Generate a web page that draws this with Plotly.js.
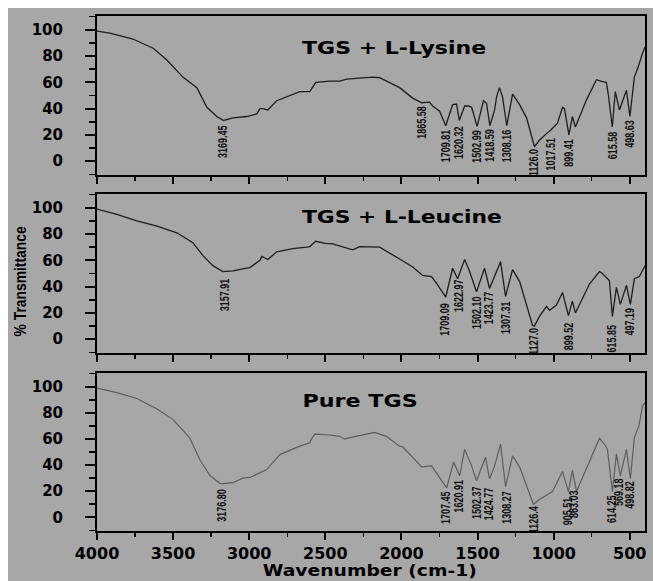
<!DOCTYPE html>
<html>
<head>
<meta charset="utf-8">
<script src="https://cdn.plot.ly/plotly-3.0.1.min.js"></script>
<style>html,body{margin:0;padding:0;background:#fff;}#chart{width:653px;height:581px;}</style>
</head>
<body>
<div id="chart"></div>
<script>
// ---- Data ----
const lysineWn = [4000,3915,3764,3631,3541,3436,3344,3278,3213,3169,3107,3042,3016,2950,2930,2910,2878,2819,2734,2668,2602,2563,2471,2406,2360,2189,2143,2031,2012,1926,1900,1867,1815,1795,1749,1709,1664,1638,1620,1585,1559,1539,1503,1461,1441,1419,1388,1375,1356,1336,1308,1270,1224,1178,1126,1093,1047,1017,975,942,929,900,877,857,785,719,680,654,640,615,595,568,522,499,470,444,417,400];
const lysineT  = [99,97.5,93,86,77,64,56,41,34,31,33,34,34,36,40,40,39,46,50,53,53,60,61,61,62.5,64,63.5,57,56,48,46.5,44.5,45,42,38,27,43,43.5,31,42,42,41,26.5,46,44,27,39,49,56,49,27,51,43,33,11,16,21,24,29,41,40,20,34,26,46.5,62,60.5,60,50,26,53,39,54,34,64,72,82,87];

const leucineWn = [4000,3869,3738,3606,3475,3370,3304,3239,3173,3107,3042,2996,2930,2917,2900,2878,2819,2714,2622,2602,2563,2500,2451,2320,2274,2143,2012,1926,1861,1802,1769,1709,1664,1631,1585,1552,1507,1454,1421,1388,1349,1316,1270,1224,1139,1127,1093,1047,1027,982,942,903,877,857,765,699,680,634,614,588,562,522,496,470,437,404,400];
const leucineT  = [99,95,90,86,81,73.5,63.6,56,51.5,52,53.5,54.5,60,63,62,60.6,66.5,69,70,70.5,74.5,73,72.5,68,70.5,70,61,55,48.5,47.7,42.4,32,54,46,60.6,51.5,36,54,38.6,48.5,59,32.6,53,44,10.6,10,17.4,25,22,26,35.6,18,29,20,42,51.5,50,44.7,17.4,39.4,26.5,41,26.5,46,47.7,55,56];

const pureWn = [4000,3869,3738,3606,3501,3390,3324,3258,3193,3173,3107,3042,2996,2885,2799,2668,2602,2592,2569,2471,2406,2373,2300,2176,2100,2012,1992,1867,1802,1703,1657,1618,1585,1539,1507,1448,1421,1388,1349,1316,1270,1224,1133,1093,1008,942,903,877,850,699,660,647,614,588,562,522,496,470,440,417,400];
const pureT  = [99,95.5,91,83,75,60.6,44,32,26,25.8,26.5,30,30.5,36.5,48,54.5,57,60,63.6,63,62,60,62,65,62,54.5,54,38.6,39.4,22.5,42.4,31.8,52,39.4,28,46,29.5,39.4,56,23.5,47,38.6,10,13.6,19.7,35,19.7,36,19.7,60.6,55,52,19.7,48.5,31.8,52,29.5,61,70,85,88];

// Peak labels: wavenumber text and the level where the label starts
const lysinePeaks  = ["3169.45","1865.58","1709.81","1620.32","1502.99","1418.59","1308.16","1126.0","1017.51","899.41","615.58","498.63"];
const lysineLblY   = [29.8,44,26,29,26,26.7,26,10.7,20,18.5,23.7,33];
const leucinePeaks = ["3157.91","1709.09","1622.97","1502.10","1423.77","1307.31","1127.0","899.52","615.85","497.19"];
const leucineLblY  = [48.5,29.5,47.7,35,38.6,31,10,14.4,12,25];
const purePeaks    = ["3176.80","1707.45","1620.91","1502.37","1424.77","1308.27","1126.4","905.51","863.03","614.25","569.18","498.82"];
const pureLblY     = [24,22,31,26,25,22,10,16,22,18,31,29.5];

const panelTitles = ["TGS + L-Lysine","TGS + L-Leucine","Pure TGS"];
const xTitle = "Wavenumber (cm-1)";
const yTitle = "% Transmittance";

// ---- Figure ----
const W = 653, H = 581, mL = 97, mR = 8, mT = 16, mB = 50;
const pw = W - mL - mR, ph = H - mT - mB;
const py = v => (H - mB - v) / ph;   // pixel row -> paper y
const px = v => (v - mL) / pw;       // pixel col -> paper x

const traces = [
  {x: lysineWn, y: lysineT, xaxis:'x', yaxis:'y', mode:'lines', line:{color:'#1e1e1e', width:1.3}},
  {x: leucineWn, y: leucineT, xaxis:'x2', yaxis:'y2', mode:'lines', line:{color:'#1e1e1e', width:1.3}},
  {x: pureWn, y: pureT, xaxis:'x3', yaxis:'y3', mode:'lines', line:{color:'#5e5e5e', width:1.2}}
];

const bold = {family:'DejaVu Sans', size:15, color:'#000', weight:'bold'};
function xax(anchor, labels){
  return {anchor:anchor, domain:[0,1], range:[4000,400], tickmode:'linear', tick0:0, dtick:500,
    ticks:'outside', ticklen:7, tickwidth:2, tickcolor:'#000', showticklabels:labels,
    tickfont:{family:'DejaVu Sans', size:16, color:'#000', weight:'bold'},
    minor:{tickmode:'linear', tick0:0, dtick:250, ticks:'outside', ticklen:4, tickwidth:1.5, tickcolor:'#000'},
    showline:true, linecolor:'#000', linewidth:2, mirror:true, showgrid:false, zeroline:false};
}
function yax(anchor, dom){
  return {anchor:anchor, domain:dom, range:[-10.5,110.5], tickmode:'linear', tick0:0, dtick:20,
    ticks:'outside', ticklen:10, tickwidth:2, tickcolor:'#000', tickfont:bold, ticklabelstandoff:19,
    minor:{tickmode:'linear', tick0:0, dtick:10, ticks:'outside', ticklen:6, tickwidth:1.5, tickcolor:'#000'},
    showline:true, linecolor:'#000', linewidth:2, mirror:true, showgrid:false, zeroline:false};
}

const annotations = [];
const stretch = {};  // text -> target length in px (narrow/wide lettering of the reference)
function peaks(names, ys, xr, yr){
  names.forEach((n,i)=>{
    annotations.push({x: parseFloat(n), y: ys[i], xref:xr, yref:yr, text:n, showarrow:false,
      textangle:-90, xanchor:'center', yanchor:'top', yshift:5,
      font:{family:'Liberation Sans', size:12, color:'#111', weight:'bold'}});
    stretch[n] = 'narrow';
  });
}
peaks(lysinePeaks, lysineLblY, 'x', 'y');
peaks(leucinePeaks, leucineLblY, 'x2', 'y2');
peaks(purePeaks, pureLblY, 'x3', 'y3');

const titleCx = [394, 402, 359.5], titleRows = [48, 217, 401], titleLen = [184, 200, 115];
panelTitles.forEach((t,i)=>{
  annotations.push({xref:'paper', yref:'paper', x:px(titleCx[i]), y:py(titleRows[i]), xanchor:'center', yanchor:'middle',
    text:t, showarrow:false, font:{family:'DejaVu Sans', size:17, color:'#000', weight:'bold'}});
  stretch[t] = titleLen[i];
});
annotations.push({xref:'paper', yref:'paper', x:px(20), y:py(282), xanchor:'center', yanchor:'middle',
  text:yTitle, textangle:-90, showarrow:false, font:{family:'Liberation Sans', size:16, color:'#000', weight:'bold'}});
stretch[yTitle] = 110;
annotations.push({xref:'paper', yref:'paper', x:px(370), y:py(571), xanchor:'center', yanchor:'middle',
  text:xTitle, showarrow:false, font:{family:'DejaVu Sans', size:15, color:'#000', weight:'bold'}});
stretch[xTitle] = 214;

const layout = {
  width:W, height:H, margin:{l:mL, r:mR, t:mT, b:mB},
  paper_bgcolor:'#ffffff', plot_bgcolor:'rgba(0,0,0,0)', showlegend:false,
  xaxis: xax('y', false), yaxis: yax('x', [py(175), 1]),
  xaxis2: xax('y2', false), yaxis2: yax('x2', [py(353), py(194)]),
  xaxis3: xax('y3', true), yaxis3: yax('x3', [0, py(373)]),
  shapes:[{type:'rect', xref:'paper', yref:'paper', x0:px(8), x1:px(W+20), y0:py(H+20), y1:py(8),
    fillcolor:'#a7a7a7', line:{width:0}, layer:'below'}],
  annotations: annotations
};

Plotly.newPlot('chart', traces, layout, {displayModeBar:false, staticPlot:true}).then(()=>{
  document.querySelectorAll('.annotation-text').forEach(el=>{
    const s = stretch[el.textContent];
    if (s === undefined) return;
    const len = el.getComputedTextLength();
    const target = (s === 'narrow') ? len * 0.75 : s;
    el.setAttribute('textLength', target.toFixed(1));
    el.setAttribute('lengthAdjust', 'spacingAndGlyphs');
  });
});
</script>
</body>
</html>
